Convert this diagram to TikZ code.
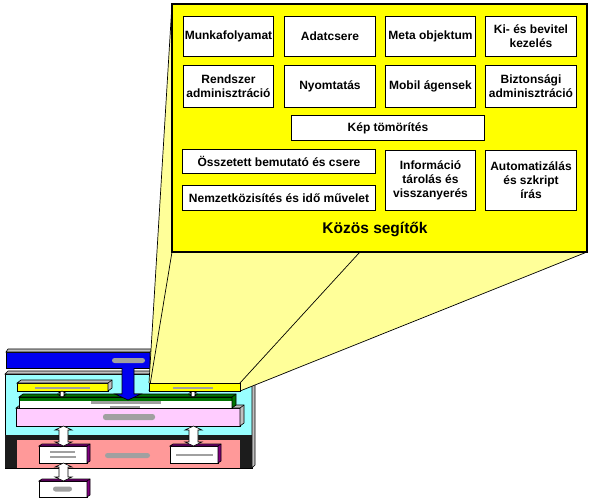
\documentclass[tikz,border=0pt]{standalone}
\usepackage{fontspec}
\setmainfont{Liberation Sans}
\usetikzlibrary{calc}
\definecolor{yel}{RGB}{255,255,0}
\definecolor{lyel}{RGB}{255,255,153}
\definecolor{bl}{RGB}{0,0,240}
\definecolor{cy}{RGB}{153,255,255}
\definecolor{salm}{RGB}{255,153,153}
\definecolor{pk}{RGB}{255,204,255}
\definecolor{grn}{RGB}{0,115,0}
\definecolor{purp}{RGB}{128,0,128}
\definecolor{sidegray}{RGB}{192,192,192}
\definecolor{lblgray}{RGB}{160,160,160}
\definecolor{darkfill}{RGB}{28,28,28}
\pgfdeclarelayer{lower}
\pgfdeclarelayer{funnel}
\pgfsetlayers{lower,funnel,main}
\tikzset{
  sz/.style 2 args={minimum width=#1, minimum height=#2},
  helper/.style={draw, line width=1pt, fill=white, align=center, inner sep=1pt,
    font=\bfseries\fontsize{12}{14}\selectfont, anchor=north west},
  blk/.style={draw, line width=0.8pt, inner sep=0pt, outer sep=0pt, anchor=north west},
  lbl/.style={fill=lblgray, draw=none, rounded corners=2.5pt, inner sep=0pt, outer sep=0pt, anchor=north west},
  bar/.style={fill=lblgray, draw=none, inner sep=0pt, outer sep=0pt, anchor=north west},
  arrw/.style={fill=white, draw=black, line width=0.6pt},
  edge3d/.style={draw=black, line width=0.6pt},
}
\newcommand{\facesTR}[4]{%
  \filldraw[fill=#2, edge3d] (#1.north west) -- ([shift={(#3,#4)}]#1.north west)
    -- ([shift={(#3,#4)}]#1.north east) -- ([shift={(#3,#4)}]#1.south east)
    -- (#1.south east) -- (#1.north east) -- cycle;
  \draw[edge3d] (#1.north east) -- ([shift={(#3,#4)}]#1.north east);}
\newcommand{\udarrow}[5]{%
  \filldraw[arrw] let \p1=(#1), \p2=(#2) in
  (\x1,\y1) -- (\x1+#4pt,\y1-#5pt) -- (\x1+#3pt,\y1-#5pt) -- (\x1+#3pt,\y2+#5pt)
  -- (\x1+#4pt,\y2+#5pt) -- (\x1,\y2) -- (\x1-#4pt,\y2+#5pt) -- (\x1-#3pt,\y2+#5pt)
  -- (\x1-#3pt,\y1-#5pt) -- (\x1-#4pt,\y1-#5pt) -- cycle;}
\begin{document}
\begin{tikzpicture}[x=1pt,y=-1pt]
\useasboundingbox (0,0) rectangle (594,502);

% ---------- main layer: big helper box ----------
\node[blk, line width=1.3pt, fill=yel, sz={415}{248}] (big) at (172,4) {};
\node[helper, sz={90}{40}] (munka) at (183,16) {Munkafolyamat};
\node[helper, sz={91}{40}] (adat) at (284,16) {Adatcsere};
\node[helper, sz={90}{40}] (meta) at (385,16) {Meta objektum};
\node[helper, sz={91}{40}] (kibe) at (485,16) {Ki- és bevitel\\kezelés};
\node[helper, sz={90}{42}] (rendsz) at (183,65) {Rendszer\\adminisztráció};
\node[helper, sz={91}{42}] (nyomt) at (284,65) {\raisebox{3pt}{Nyomtatás}};
\node[helper, sz={90}{42}] (mobil) at (385,65) {Mobil ágensek};
\node[helper, sz={91}{42}] (bizt) at (485,65) {Biztonsági\\adminisztráció};
\node[helper, sz={193}{25}] (kep) at (291,115) {Kép tömörítés};
\node[helper, sz={193}{24}] (ossz) at (182,149) {Összetett bemutató és csere};
\node[helper, sz={193}{25}] (nemz) at (182,185) {Nemzetközisítés és idő művelet};
\node[helper, sz={90}{60}] (info) at (385,150) {Információ\\tárolás és\\visszanyerés};
\node[helper, sz={91}{60}] (auto) at (485,150) {Automatizálás\\és szkript\\írás};
\node[font=\bfseries\fontsize{15.5}{18}\selectfont] (kozos) at (375,229) {Közös segítők};

% yellow bar that opens into the funnel
\node[blk, fill=yel, sz={91}{8}] (ybarR) at (149,383) {};
\node[bar, sz={40}{2.5}] (ybarRl) at (173,386.5) {};

% ---------- funnel ----------
\begin{pgfonlayer}{funnel}
\fill[lyel] (ybarR.south west) -- (ybarR.north west) -- (big.north west) -- (big.north east)
  -- (big.south east) -- (ybarR.south east) -- cycle;
\draw[line width=0.7pt] (ybarR.north west) -- (big.north west);
\draw[line width=0.7pt] (ybarR.south west) -- (big.south west);
\draw[line width=0.7pt] (ybarR.north east) -- (big.north east);
\draw[line width=0.7pt] (ybarR.south east) -- (big.south east);
\end{pgfonlayer}

% ---------- lower architecture diagram ----------
\begin{pgfonlayer}{lower}
\node[blk, fill=bl, sz={144}{16}] (blue) at (6,352) {};
\facesTR{blue}{sidegray}{2}{-3}
\node[lbl, sz={33}{5}] (bluel) at (112,358) {};

\node[blk, fill=cy, sz={247}{94}] (cont) at (5,374) {};
\facesTR{cont}{sidegray}{3}{-3}
\node[blk, draw=none, fill=darkfill, sz={247}{33}] (dark) at (5,435) {};
\node[blk, draw=none, fill=salm, sz={223}{28}] (salmon) at (17,440) {};
\node[lbl, sz={45}{5}] (salml) at (105,453) {};

\node[blk, fill=yel, sz={91}{8}] (ybarL) at (17,383) {};
\facesTR{ybarL}{sidegray}{4}{-3}
\node[bar, sz={55}{2.5}] (ybarLl) at (35,386.5) {};

\node[blk, fill=pk, sz={224}{18}] (pink) at (16,408) {};
\facesTR{pink}{sidegray}{4}{-3}
\node[lbl, sz={52}{6}] (pinkl) at (103,414) {};

\node[blk, fill=white, sz={213}{11}] (mid) at (19,397) {};
\fill[grn] (mid.north west) rectangle ($(mid.north east)+(0,4)$);
\draw[line width=0.8pt] (mid.north west) rectangle (mid.south east);
\facesTR{mid}{grn}{4}{-3}
\node[bar, sz={70}{3}] (midl1) at (91,401) {};
\node[bar, sz={30}{1.5}] (midl2) at (110,406) {};

\node[blk, fill=white, sz={48}{17}] (wL) at (39,446) {};
\facesTR{wL}{purp}{3}{-2}
\node[bar, sz={25}{2}] (wLl1) at (50,451) {};
\node[bar, sz={26}{2}] (wLl2) at (50,456) {};

\node[blk, fill=white, sz={48}{17}] (wR) at (170,446) {};
\facesTR{wR}{purp}{3}{-2}
\node[bar, sz={37}{2}] (wRl) at (176,453.5) {};

\node[blk, fill=white, sz={48}{16}] (wB) at (39,481) {};
\facesTR{wB}{purp}{3}{-2}
\node[lbl, sz={19}{5}] (wBl) at (53,486.5) {};

% connectors
\udarrow{ybarL.south -| 62,0}{mid.north -| 62,0}{1.8}{3.6}{2}
\udarrow{ybarR.south -| 193,0}{mid.north -| 193,0}{1.8}{3.6}{2}
\udarrow{pink.south -| 63.5,0}{wL.north -| 63.5,0}{4.5}{8.5}{4}
\udarrow{pink.south -| 193.5,0}{wR.north -| 193.5,0}{4.5}{8.5}{4}
\udarrow{wL.south -| 63.5,0}{wB.north -| 63.5,0}{4.5}{8.5}{4}

% blue arrow
\coordinate (bluefoot) at (blue.south -| 128,0);
\coordinate (bluetip) at (mid.north -| 128,0);
\fill[bl] let \p1=(bluefoot), \p2=(bluetip) in
  (\x1-6pt,\y1+1pt) -- (\x1-6pt,\y2+3pt) -- (\x1-13pt,\y2+3pt) -- (\x1,\y2-3pt)
  -- (\x1+13pt,\y2+3pt) -- (\x1+6pt,\y2+3pt) -- (\x1+6pt,\y1+1pt) -- cycle;
\draw[line width=0.7pt] let \p1=(bluefoot), \p2=(bluetip) in
  (\x1-6pt,\y1) -- (\x1-6pt,\y2+3pt) -- (\x1-13pt,\y2+3pt) -- (\x1,\y2-3pt)
  -- (\x1+13pt,\y2+3pt) -- (\x1+6pt,\y2+3pt) -- (\x1+6pt,\y1);
\end{pgfonlayer}
\end{tikzpicture}
\end{document}
